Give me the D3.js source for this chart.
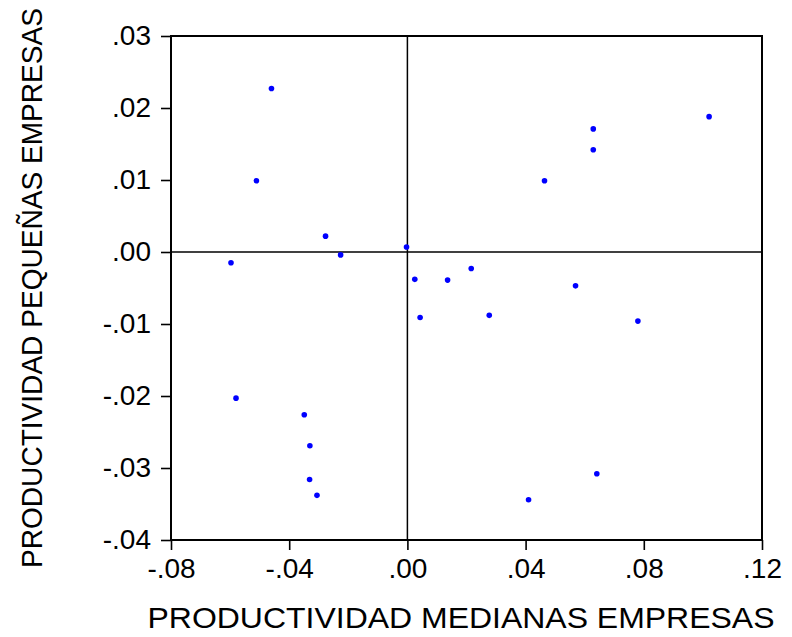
<!DOCTYPE html>
<html>
<head>
<meta charset="utf-8">
<script src="https://cdn.jsdelivr.net/npm/d3@7"></script>
<style>
  body { margin: 0; background: #fff; }
  svg { display: block; font-family: "Liberation Sans", Arial, sans-serif; }
</style>
</head>
<body>
<div class="chart"></div>
<script>
// productividad medianas empresas (x) vs pequeñas empresas (y)
const medianas = [-0.0460, -0.0511, -0.0277, -0.0003, -0.0226, -0.0597, 0.1021, 0.0629,
  0.0629, 0.0464, 0.0025, 0.0136, 0.0043, -0.0580, -0.0349, -0.0330, -0.0331, -0.0306,
  0.0216, 0.0569, 0.0277, 0.0780, 0.0641, 0.0410]
const pequenas = [0.0227, 0.0099, 0.0022, 0.0007, -0.0004, -0.0015, 0.0188, 0.0171,
  0.0142, 0.0099, -0.0038, -0.0039, -0.0091, -0.0203, -0.0226, -0.0269, -0.0316, -0.0338,
  -0.0023, -0.0047, -0.0088, -0.0096, -0.0308, -0.0344]
const xTicks = [-0.08, -0.04, 0, 0.04, 0.08, 0.12]
const yTicks = [0.03, 0.02, 0.01, 0, -0.01, -0.02, -0.03, -0.04]
const xTitle = 'PRODUCTIVIDAD MEDIANAS EMPRESAS'
const yTitle = 'PRODUCTIVIDAD PEQUEÑAS EMPRESAS'

const width = 792, height = 637
const margin = {top: 36, right: 30, bottom: 97, left: 171}
const innerWidth = width - margin.left - margin.right
const innerHeight = height - margin.top - margin.bottom

const svg = d3.select('.chart').append('svg').attr('width', width).attr('height', height)
const g = svg.append('g').attr('transform', `translate(${margin.left}, ${margin.top})`)

const x = d3.scaleLinear().domain([-0.08, 0.12]).range([0, innerWidth])
const y = d3.scaleLinear().domain([-0.04, 0.03]).range([innerHeight, 0])

// ".03", "-.04" style labels with a plain hyphen
const fmt = d => d3.format('.2f')(d).replace('\u2212', '-').replace('0.', '.')

const xAxis = g.append('g')
  .attr('transform', `translate(0, ${innerHeight})`)
  .call(d3.axisBottom(x).tickValues(xTicks).tickFormat(fmt).tickSize(10).tickPadding(8))
const yAxis = g.append('g')
  .call(d3.axisLeft(y).tickValues(yTicks).tickFormat(fmt).tickSize(10).tickPadding(10))

;[xAxis, yAxis].forEach(a => {
  a.attr('font-size', 28).attr('font-family', '"Liberation Sans", Arial, sans-serif')
  a.select('.domain').remove()
  a.selectAll('line').attr('stroke', '#000').attr('stroke-width', 1.6)
  a.selectAll('text').style('font-size', '28px').attr('fill', '#000')
})

// zero reference lines
g.append('line')
  .attr('x1', 0).attr('x2', innerWidth).attr('y1', y(0)).attr('y2', y(0))
  .attr('stroke', '#000').attr('stroke-width', 1.5)
g.append('line')
  .attr('x1', x(0)).attr('x2', x(0)).attr('y1', 0).attr('y2', innerHeight)
  .attr('stroke', '#000').attr('stroke-width', 1.5)

g.append('rect')
  .attr('width', innerWidth).attr('height', innerHeight)
  .attr('fill', 'none').attr('stroke', '#000').attr('stroke-width', 2)

g.selectAll('circle')
  .data(medianas.map((m, i) => [m, pequenas[i]]))
  .join('circle')
  .attr('cx', d => x(d[0]))
  .attr('cy', d => y(d[1]))
  .attr('r', 2.8)
  .attr('fill', '#0000ff')

svg.append('text')
  .attr('x', 461).attr('y', 628)
  .attr('text-anchor', 'middle')
  .attr('font-size', 30)
  .attr('textLength', 627).attr('lengthAdjust', 'spacingAndGlyphs')
  .text(xTitle)

svg.append('text')
  .attr('transform', 'translate(42, 288) rotate(-90)')
  .attr('text-anchor', 'middle')
  .attr('font-size', 30)
  .attr('textLength', 560).attr('lengthAdjust', 'spacingAndGlyphs')
  .text(yTitle)
</script>
</body>
</html>
